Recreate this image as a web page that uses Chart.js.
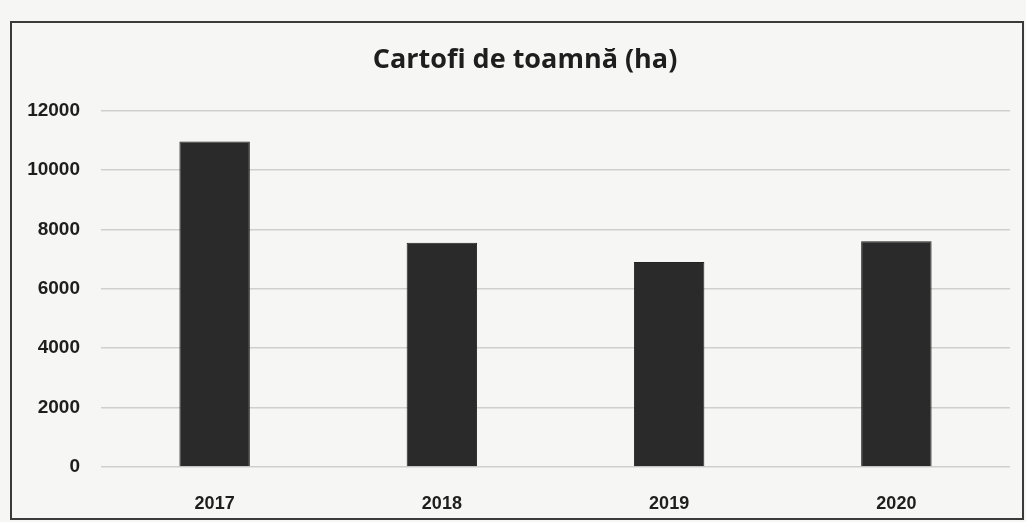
<!DOCTYPE html>
<html>
<head>
<meta charset="utf-8">
<script src="https://cdn.jsdelivr.net/npm/chart.js@4/dist/chart.umd.min.js"></script>
<style>
    html, body { margin: 0; padding: 0; background: #f6f6f4; }
    #wrap { width: 1026px; height: 522px; }
</style>
</head>
<body>
<div id="wrap"><canvas id="chart" width="1026" height="522"></canvas></div>
<script>
// DATA
const years = ["2017", "2018", "2019", "2020"];
const hectares = [10950, 7550, 6900, 7600];
const yTicks = [0, 2000, 4000, 6000, 8000, 10000, 12000];

// outer frame like the scanned box + nudge title a bit right
const framePlugin = {
    id: "frame",
    afterLayout(chart) {
        if (chart.titleBlock) chart.titleBlock.left += 40;
    },
    beforeDraw(chart) {
        const ctx = chart.ctx;
        ctx.save();
        ctx.fillStyle = "#f6f6f4";
        ctx.fillRect(0, 0, chart.width, chart.height);
        ctx.strokeStyle = "#3a3a3a";
        ctx.lineWidth = 2;
        ctx.strokeRect(11, 22, 1012, 497);
        ctx.restore();
    }
};

// CHART
const chart = new Chart(document.getElementById("chart"), {
    type: "bar",
    data: {
        labels: years,
        datasets: [{
            label: "Cartofi de toamnă (ha)",
            data: hectares,
            backgroundColor: "#2a2a2a",
            borderColor: "#222222",
            borderWidth: 1,
            barPercentage: 0.31,
            categoryPercentage: 1
        }]
    },
    options: {
        responsive: false,
        animation: false,
        layout: { padding: { left: 0, right: 16, top: 0, bottom: 0 } },
        plugins: {
            legend: { display: false },
            tooltip: { enabled: false },
            title: {
                display: true,
                text: "Cartofi de toamnă (ha)",
                color: "#1e1e1e",
                font: { family: "Open Sans", size: 27, weight: "bold" },
                padding: { top: 44, bottom: 34 }
            }
        },
        scales: {
            x: {
                grid: { display: false },
                border: { display: false },
                ticks: {
                    color: "#1e1e1e",
                    padding: 18,
                    font: { family: "Liberation Sans", size: 18, weight: "bold" }
                },
                afterFit(scale) { scale.height = 55; }
            },
            y: {
                min: 0,
                max: 12000,
                afterBuildTicks(scale) {
                    scale.ticks = yTicks.map(v => ({ value: v }));
                },
                grid: { color: "#cfcfcf", lineWidth: 1.5, drawTicks: false },
                border: { display: false },
                ticks: {
                    color: "#1e1e1e",
                    padding: 21,
                    callback: v => String(v),
                    font: { family: "Liberation Sans", size: 19, weight: "bold" }
                },
                afterFit(scale) { scale.width = 101; }
            }
        }
    },
    plugins: [framePlugin]
});
</script>
</body>
</html>
